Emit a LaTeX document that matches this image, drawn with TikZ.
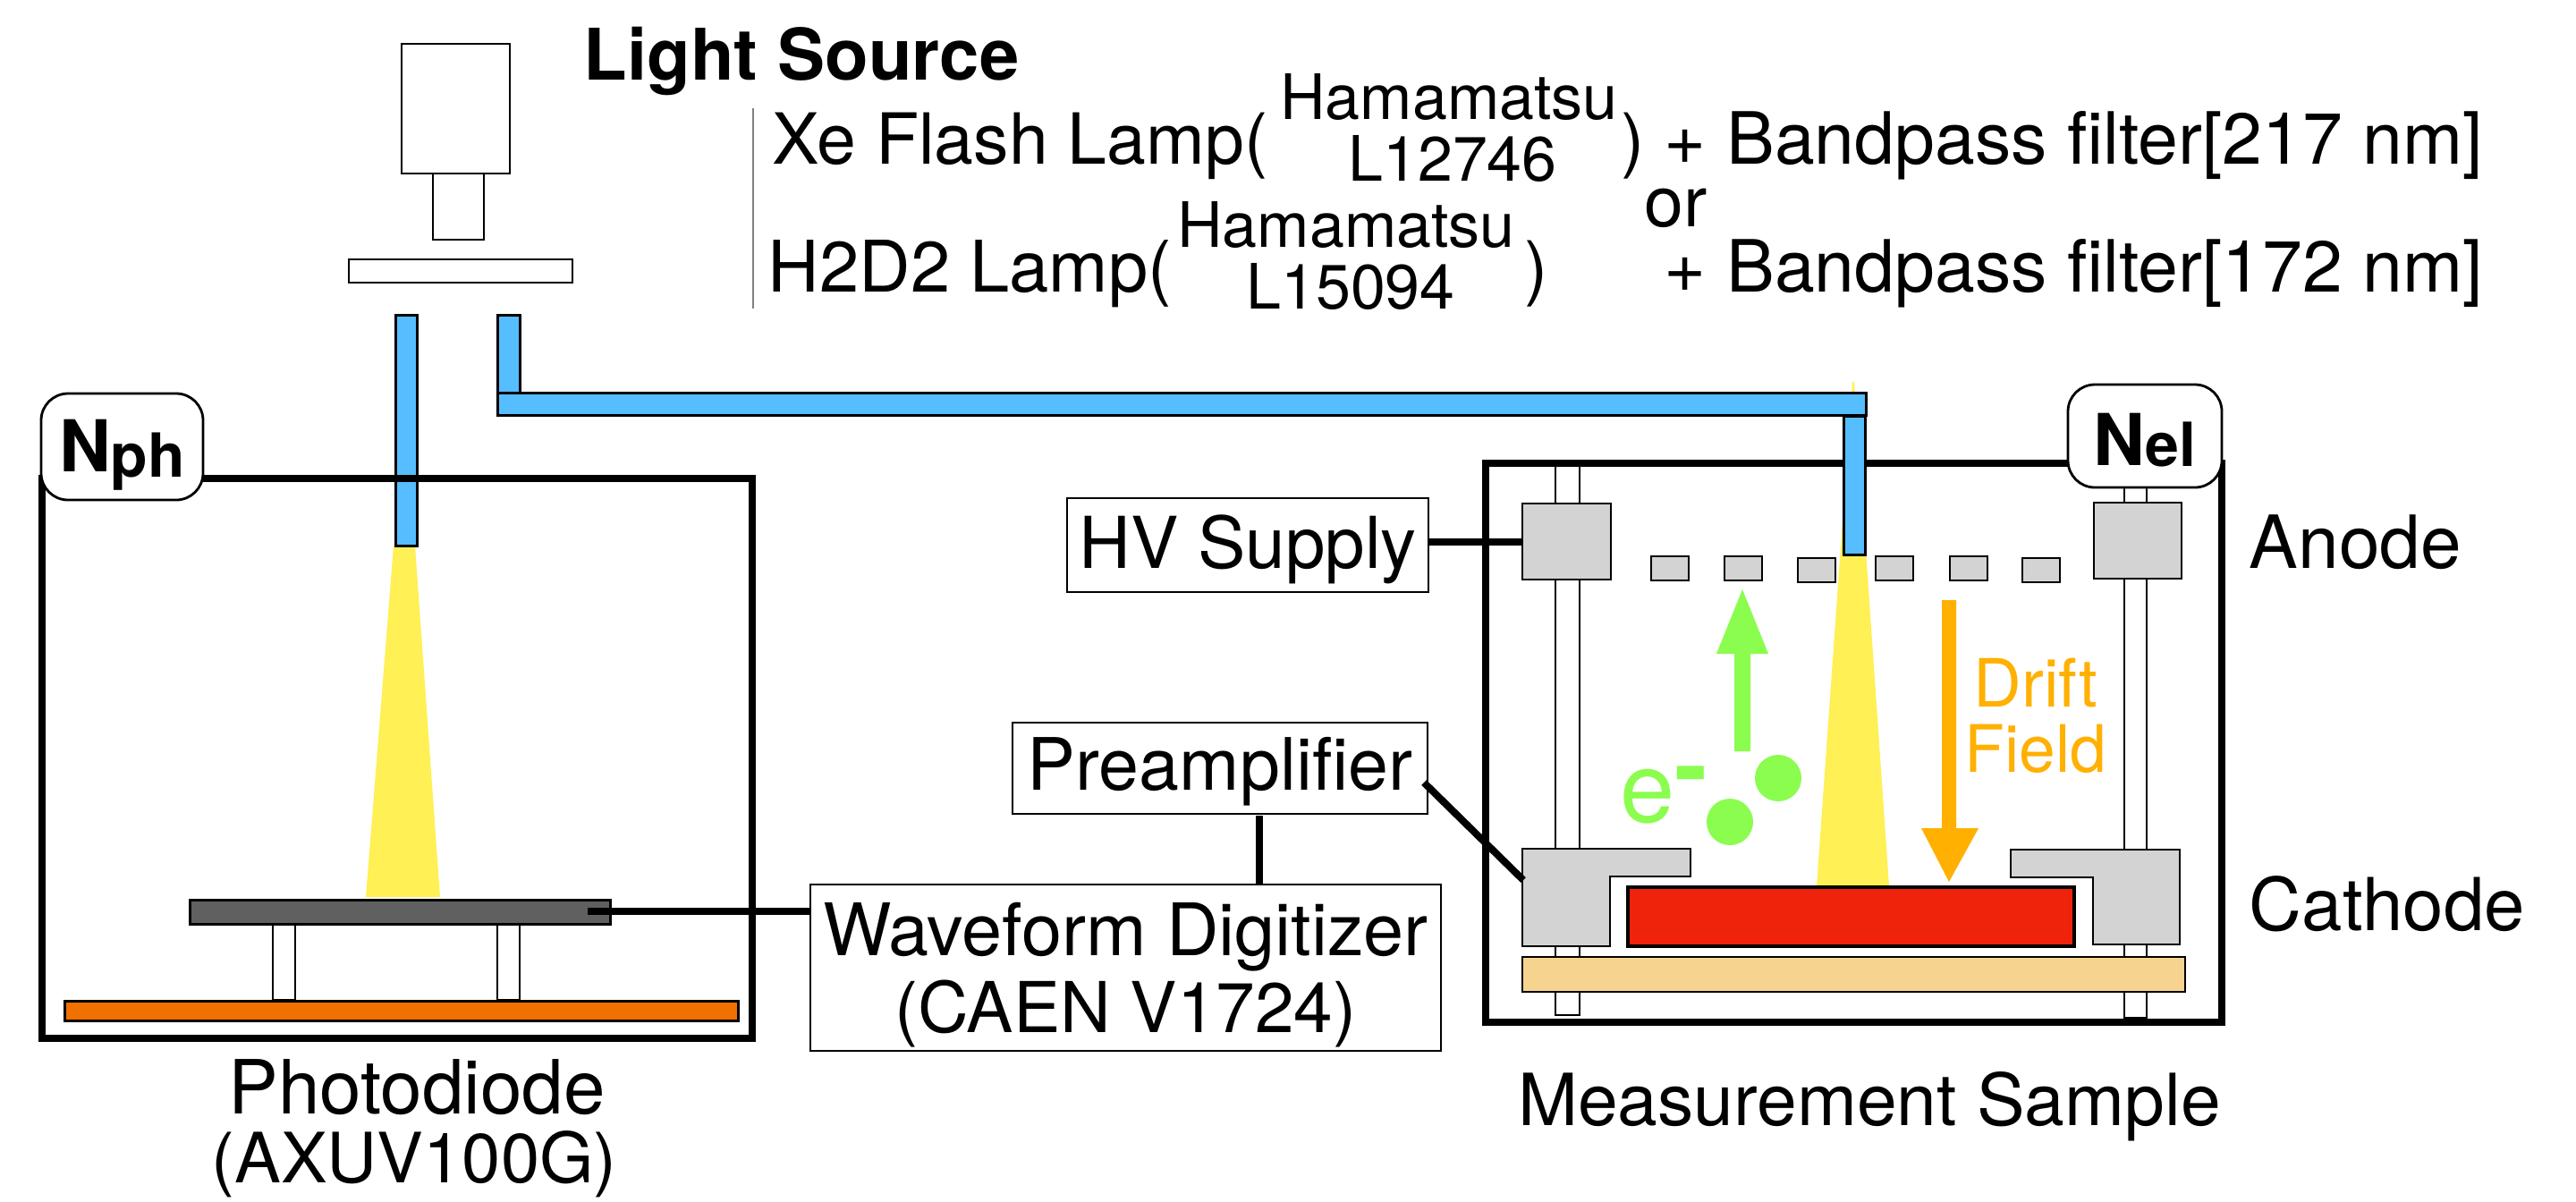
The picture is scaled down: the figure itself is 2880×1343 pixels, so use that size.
\documentclass[tikz,border=0pt]{standalone}
\usepackage{fontspec}
\setmainfont{TeX Gyre Heros}
\definecolor{fiber}{HTML}{56BDFF}
\definecolor{beam}{HTML}{FFF055}
\definecolor{metal}{HTML}{D3D3D3}
\definecolor{diodegray}{HTML}{606060}
\definecolor{baseorange}{HTML}{F07000}
\definecolor{sample}{HTML}{EF230C}
\definecolor{plate}{HTML}{F6D48F}
\definecolor{egreen}{HTML}{8AFD4E}
\definecolor{drift}{HTML}{FFB000}
\newcommand\fsz[1]{\fontsize{#1}{23}\selectfont}
\tikzset{
  thin part/.style={draw=black,line width=.7pt,fill=white},
  metal part/.style={draw=black,line width=.7pt,fill=metal},
  fiber part/.style={draw=black,line width=.75pt,fill=fiber},
  heavy/.style={draw=black,line width=2pt},
  wire/.style={draw=black,line width=2pt},
  lbl/.style={anchor=base west,inner sep=0pt,font=\fsz{19.7}},
  lblc/.style={anchor=base,inner sep=0pt,font=\fsz{19.7}},
  small lbl/.style={anchor=base,inner sep=0pt,font=\fontsize{17.5}{20}\selectfont},
  textbox/.style={draw=black,line width=.6pt,fill=white,inner xsep=0pt,inner ysep=0pt,outer sep=0pt,
     font=\fontsize{20}{21.5}\selectfont},
  count box/.style={draw=black,line width=.7pt,fill=white,rounded corners=7.5pt,inner xsep=0pt,inner ysep=0pt,outer sep=0pt,
     font=\fontsize{20}{23}\selectfont\bfseries},
  block/.style={draw=black,line width=.7pt,inner sep=0pt,outer sep=0pt},
}
\begin{document}
\begin{tikzpicture}[x=0.25pt,y=-0.25pt]
\useasboundingbox (0,0) rectangle (2880,1343);
\fill[white] (0,0) rectangle (2880,1343);

% light source
\draw[thin part] (449,49) rectangle (570,194);
\draw[thin part] (484,194) rectangle (541,268);
\draw[thin part] (390,290) rectangle (640,316);

% heading and lamp text
\node[lbl,font=\fsz{19.9}\bfseries] (title) at (652,89) {Light Source};
\draw[gray,line width=.5pt] (841.5,121) -- (841.5,345);
\node[lbl] (xe) at (863,183) {Xe Flash Lamp(};
\node[small lbl] (ham1) at (1620,133) {Hamamatsu};
\node[small lbl] (l1) at (1624,202) {L12746};
\node[lbl] (xeclose) at (1812,183) {)};
\node[lbl,font=\fsz{20.15}] (bp1) at (1860,183) {+ Bandpass filter[217 nm]};
\node[lbl] (orw) at (1838,253) {or};
\node[lbl,font=\fsz{19.9}] (hd) at (858,326) {H2D2 Lamp(};
\node[small lbl] (ham2) at (1505,276) {Hamamatsu};
\node[small lbl] (l2) at (1510,345) {L15094};
\node[lbl] (hdclose) at (1704,326) {)};
\node[lbl,font=\fsz{20.15}] (bp2) at (1860,326) {+ Bandpass filter[172 nm]};

% beams
\fill[beam] (440,610) -- (464,610) -- (492,1003) -- (409,1003) -- cycle;
\fill[beam] (2071,427) -- (2073,427) -- (2112,991) -- (2031,991) -- cycle;

% left fibre
\draw[fiber part] (442,352) rectangle (466,610);

% photodiode chamber
\draw[thin part] (305,1034) rectangle (330,1118);
\draw[thin part] (556,1034) rectangle (581,1118);
\draw[draw=black,line width=.75pt,fill=baseorange] (72,1119) rectangle (825,1141);
\node[draw=black,line width=.8pt,fill=diodegray,inner sep=0pt,outer sep=0pt,
      minimum width=117.5pt,minimum height=6.9pt] (diode) at (447.5,1020) {};
\draw[heavy] (47,535) rectangle (841,1161);
\node[count box,minimum width=45.25pt,text height=21.75pt,text depth=8pt] (nph) at (136.5,499.5)
   {N\raisebox{-1.5pt}{\fontsize{17}{18}\selectfont ph}};
\node[lblc,font=\fsz{20.9}] (pd1) at (466,1245) {Photodiode};
\node[lblc,font=\fsz{19.4}] (pd2) at (463,1322) {(AXUV100G)};

% upper fibre branch
\draw[fiber part] (556,352) rectangle (581,439);
\draw[fiber part] (556,439) rectangle (2086,464);

% measurement chamber
\draw[heavy] (1661,518) rectangle (2484,1143);
\draw[thin part] (1739,521) rectangle (1766,1135);
\draw[thin part] (2375,521) rectangle (2400,1138);
\node[block,fill=metal,minimum width=24.75pt,minimum height=21.25pt] (anL) at (1751.5,605.5) {};
\node[block,fill=metal,minimum width=24.5pt,minimum height=21.25pt] (anR) at (2390,604.5) {};
\foreach \xa/\ya in {1846/622,1928/622,2010/624,2097/622,2180/622,2261/624}{
  \draw[metal part] (\xa,\ya) rectangle ++(42,27);
}
\draw[metal part] (1702,949) -- (1890,949) -- (1890,980) -- (1800,980) -- (1800,1058) -- (1702,1058) -- cycle;
\draw[metal part] (2437,950) -- (2248,950) -- (2248,981) -- (2340,981) -- (2340,1056) -- (2437,1056) -- cycle;
\draw[draw=black,line width=.8pt,fill=sample] (1820,992) rectangle (2319,1058);
\draw[draw=black,line width=.7pt,fill=plate] (1702,1070) rectangle (2443,1109);
\draw[fiber part] (2061,465) rectangle (2085,620);
\node[count box,minimum width=43pt,text height=22.5pt,text depth=6.25pt] (nel) at (2398,487.5)
   {N\raisebox{-.25pt}{\fontsize{17}{18}\selectfont el}};

% electrons and field
\fill[egreen] (1939,840) -- (1939,731) -- (1919,731) -- (1948,659) -- (1977,731) -- (1957,731) -- (1957,840) -- cycle;
\fill[egreen] (1988,870) circle [radius=26];
\fill[egreen] (1934,919) circle [radius=26];
\node[lbl,text=egreen,font=\fontsize{27.5}{30}\selectfont] (eminus) at (1811,919) {e\raisebox{6.25pt}{\bfseries -}};
\fill[drift] (2171,671) -- (2187,671) -- (2187,926) -- (2212,926) -- (2179,986) -- (2148,926) -- (2171,926) -- cycle;
\node[lblc,text=drift,font=\fsz{18.6}] (driftlbl) at (2276,790) {Drift};
\node[lblc,text=drift,font=\fsz{18.3}] (fieldlbl) at (2276,863) {Field};

\node[lbl,font=\fsz{20.5}] (anode) at (2514,635) {Anode};
\node[lbl,font=\fsz{20.4}] (cathode) at (2514,1040) {Cathode};
\node[lblc,font=\fsz{20.1}] (meas) at (2090,1258) {Measurement Sample};

% electronics
\node[textbox,minimum width=101pt,text height=19.5pt,text depth=6.75pt] (hv) at (1395,609.5) {HV Supply};
\node[textbox,minimum width=116pt,text height=18.75pt,text depth=6.75pt,font=\fsz{20.2}] (pre) at (1364,859) {Preamplifier};
\node[textbox,minimum width=176.25pt,align=center] (dig) at (1258.5,1082)
  {\rule{0pt}{19.75pt}{\fontsize{20.25}{21.5}\selectfont Waveform Digitizer}\\{\fontsize{19.6}{21.5}\selectfont (CAEN V1724)}\rule[-5.25pt]{0pt}{5.25pt}};

\coordinate (diodeEnd) at (657,1019);
\coordinate (preOut) at (1592,875);
\coordinate (catIn) at (1703,984);
\coordinate (preDown) at (1408,912);
\coordinate (digUp) at (1408,989);
\draw[wire] (diodeEnd) -- (dig.west |- diodeEnd);
\draw[wire] (hv.east |- anL.west) -- (anL.west);
\draw[wire] (preOut) -- (catIn);
\draw[wire] (preDown) -- (digUp);
\end{tikzpicture}
\end{document}
